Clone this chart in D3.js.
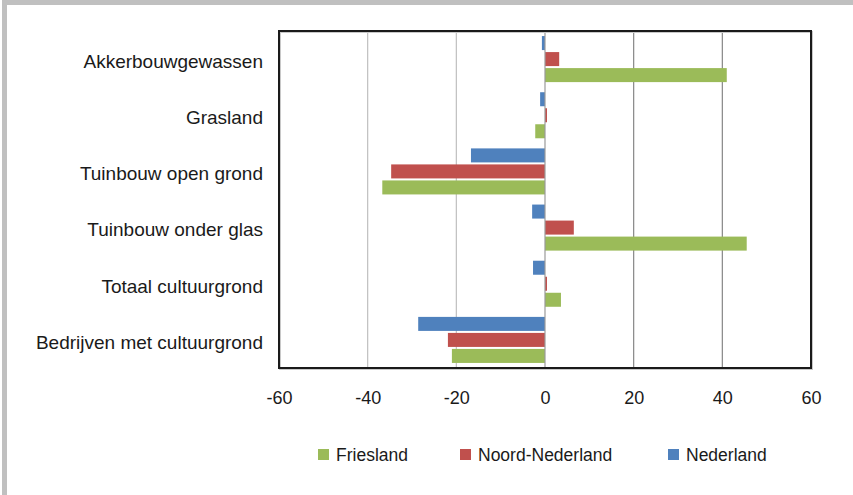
<!DOCTYPE html>
<html><head><meta charset="utf-8">
<script src="https://cdn.jsdelivr.net/npm/d3@7"></script>
<style>body{margin:0;background:#fff}svg{display:block}text{font-family:"Liberation Sans",Arial,sans-serif;fill:#1a1a1a}</style>
</head><body>
<svg id="c" width="853" height="495"></svg>
<script>
const categories = ["Akkerbouwgewassen","Grasland","Tuinbouw open grond","Tuinbouw onder glas","Totaal cultuurgrond","Bedrijven met cultuurgrond"];
const seriesNames = ["Nederland","Noord-Nederland","Friesland"];
const nederland = [-0.7,-1.1,-16.7,-2.9,-2.7,-28.6];
const noordNederland = [3.2,0.45,-34.7,6.5,0.45,-21.9];
const friesland = [41.0,-2.2,-36.7,45.5,3.6,-21.0];
const colors = ["#4F81BD","#C0504D","#9BBB59"];
const ticks = [-60,-40,-20,0,20,40,60];
const legendOrder = ["Friesland","Noord-Nederland","Nederland"];

const values = [nederland, noordNederland, friesland];
const svg = d3.select("#c");
// outer frame strips
svg.append("rect").attr("x",2).attr("y",0).attr("width",5).attr("height",495).attr("fill","#c0c0c0");
svg.append("rect").attr("x",2).attr("y",0).attr("width",851).attr("height",5).attr("fill","#c0c0c0");

const L=279,R=811,T=31,B=368;
const x = d3.scaleLinear().domain([-60,60]).range([L,R]);
const y = d3.scaleBand().domain(categories).range([T,B]).paddingInner(0).paddingOuter(0);
const inner = d3.scaleBand().domain(seriesNames).range([0,y.bandwidth()]).paddingInner(0.125).paddingOuter(0.316);

// gridlines
svg.append("g").selectAll("line").data(ticks.filter(t=>t!==-60&&t!==60&&t!==0)).join("line")
  .attr("x1",d=>x(d)).attr("x2",d=>x(d)).attr("y1",T).attr("y2",B)
  .attr("stroke",d=>d<0?"#bfbfbf":"#868686").attr("stroke-width",1.2);

// bars
seriesNames.forEach((s,si)=>{
  svg.append("g").selectAll("rect").data(categories).join("rect")
    .attr("x",(c,i)=>x(Math.min(0,values[si][i])))
    .attr("width",(c,i)=>Math.abs(x(values[si][i])-x(0)))
    .attr("y",c=>y(c)+inner(s))
    .attr("height",inner.bandwidth())
    .attr("fill",colors[si]);
});

// zero line
svg.append("line").attr("x1",x(0)).attr("x2",x(0)).attr("y1",T).attr("y2",B).attr("stroke","#9a9a9a").attr("stroke-width",1.2);

// plot border
svg.append("rect").attr("x",L+1).attr("y",T+1).attr("width",R-L).attr("height",B-T).attr("fill","none").attr("stroke","#c8c8c8").attr("stroke-width",2);
svg.append("rect").attr("x",L).attr("y",T).attr("width",R-L).attr("height",B-T).attr("fill","none").attr("stroke","#1a1a1a").attr("stroke-width",2);

// x axis labels
const xAxis = d3.axisBottom(x).tickValues(ticks).tickSize(0).tickPadding(0).tickFormat(d3.format("d"));
const gx = svg.append("g").attr("transform",`translate(0,${B+23})`).call(xAxis);
gx.select(".domain").remove();
gx.selectAll("text").attr("font-size","18px").attr("font-family","Liberation Sans, Arial, sans-serif").attr("fill","#1a1a1a").text(d=>d<0?"-"+Math.abs(d):d);

// y axis labels
const yAxis = d3.axisLeft(y).tickSize(0).tickPadding(16);
const gy = svg.append("g").attr("transform",`translate(${L},2)`).call(yAxis);
gy.select(".domain").remove();
gy.selectAll("text").attr("font-size","19px").attr("font-family","Liberation Sans, Arial, sans-serif").attr("fill","#1a1a1a").attr("dy","0.36em");

// legend
const legX = [318,460,668];
const lg = svg.append("g");
legendOrder.forEach((n,i)=>{
  const si = seriesNames.indexOf(n);
  lg.append("rect").attr("x",legX[i]).attr("y",449).attr("width",11).attr("height",11).attr("fill",colors[si]);
  lg.append("text").attr("x",legX[i]+18).attr("y",461).attr("font-size","17.5px").text(n);
});
</script>
</body></html>
